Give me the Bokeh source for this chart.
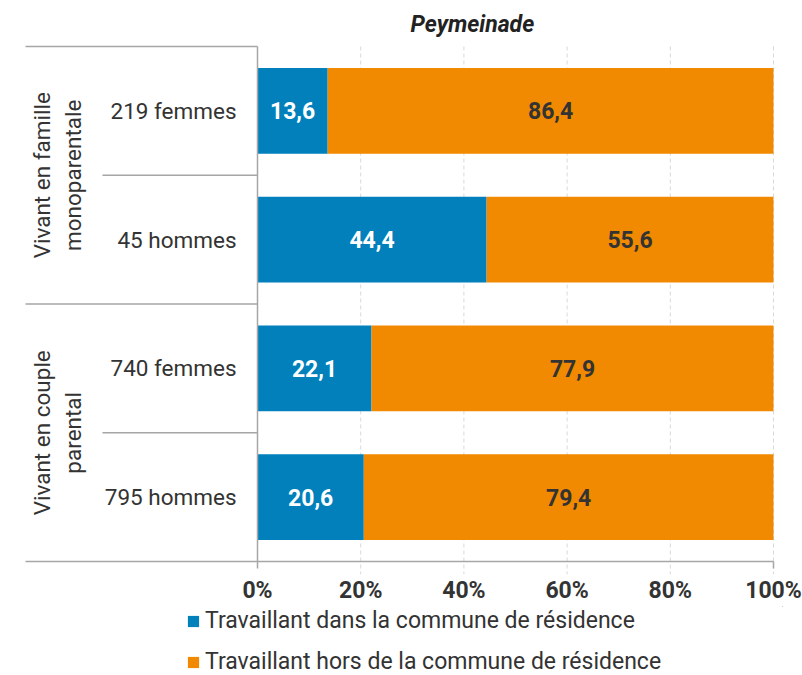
import math
from bokeh.plotting import figure
from bokeh.layouts import column
from bokeh.models import (ColumnDataSource, FixedTicker, Range1d, Legend, LegendItem)
from bokeh.core.properties import value
from bokeh.embed import file_html
from bokeh.resources import INLINE

# ---------------- data ----------------
title_text = "Peymeinade"
groups = ["Vivant en famille\nmonoparentale", "Vivant en couple\nparental"]
sub_labels = ["219 femmes", "45 hommes", "740 femmes", "795 hommes"]
dans = [13.6, 44.4, 22.1, 20.6]
hors = [86.4, 55.6, 77.9, 79.4]
series_names = ["Travaillant dans la commune de résidence",
                "Travaillant hors de la commune de résidence"]
ticks = [0, 20, 40, 60, 80, 100]
tick_labels = ["0%", "20%", "40%", "60%", "80%", "100%"]

# ---------------- styles ----------------
BLUE = "#0180bb"
ORANGE = "#f18a00"
TXT = "#333333"
LINE = "#a6a6a6"
GRID = "#d9d9d9"
FONT = "Roboto"
FS = "22.5px"
FSL = "23px"
FSB = "23px"

W = 802
H1, H2 = 606, 69
# pixel layout (page coords)
X0_PX, X100_PX = 257, 773          # where 0% and 100% sit
FL, FR = 20, 782                   # frame left/right
Y4_PX, Y0_PX = 46, 563             # top / bottom of category band
FT, FB = 44, 576                   # frame top/bottom

ux = (X100_PX - X0_PX) / 100.0
uy = (Y0_PX - Y4_PX) / 4.0
x_start = (FL - X0_PX) / ux
x_end = (FR - X0_PX) / ux
y_end = 4 + (Y4_PX - FT) / uy
y_start = -(FB - Y0_PX) / uy

n = len(sub_labels)
ys = [n - i - 0.5 for i in range(n)]
total = [a + b for a, b in zip(dans, hors)]

p = figure(width=W, height=H1, output_backend="svg", toolbar_location=None,
           x_range=Range1d(x_start, x_end), y_range=Range1d(y_start, y_end),
           min_border_left=FL, min_border_right=W - FR,
           min_border_top=FT, min_border_bottom=H1 - FB)
p.outline_line_color = None
p.grid.visible = False
p.yaxis.visible = False
p.background_fill_color = None
p.border_fill_color = "white"

# title
p.title.text = title_text
p.title.text_font = FONT
p.title.text_font_size = FSB
p.title.text_font_style = "bold italic"
p.title.text_color = "#222222"
p.title.align = "left"
p.title.offset = 410 - FL
p.title.standoff = 14

# x axis
ax = p.xaxis[0]
ax.ticker = FixedTicker(ticks=ticks)
ax.major_label_overrides = {t: l for t, l in zip(ticks, tick_labels)}
ax.axis_line_color = None
ax.major_tick_line_color = None
ax.minor_tick_line_color = None
ax.major_tick_out = 0
ax.major_tick_in = 0
ax.major_label_standoff = 2
ax.major_label_text_font = FONT
ax.major_label_text_font_size = FSB
ax.major_label_text_font_style = "bold"
ax.major_label_text_color = TXT

# dashed gridlines
grid_ticks = [t for t in ticks if t > 0]
p.segment(x0=grid_ticks, x1=grid_ticks, y0=[4] * len(grid_ticks),
          y1=[-13 / uy] * len(grid_ticks), line_color=GRID, line_width=1,
          line_dash="4 3")

# bars
src = ColumnDataSource(dict(y=ys, dans=dans, hors=hors, total=total,
                            zero=[0] * n))
p.hbar(y="y", left="zero", right="dans", height=0.665, source=src,
       fill_color=BLUE, line_color=None)
p.hbar(y="y", left="dans", right="total", height=0.665, source=src,
       fill_color=ORANGE, line_color=None)

fmt = lambda v: f"{v:.1f}".replace(".", ",")
p.text(x=[d / 2 for d in dans], y=ys, text=[fmt(v) for v in dans],
       text_font=value(FONT), text_font_size=FSB, text_font_style="bold",
       text_color="white", text_align="center", text_baseline="middle")
p.text(x=[d + h / 2 for d, h in zip(dans, hors)], y=ys,
       text=[fmt(v) for v in hors],
       text_font=value(FONT), text_font_size=FSB, text_font_style="bold",
       text_color=TXT, text_align="center", text_baseline="middle")

# left category labels
p.text(x=[(236 - X0_PX) / ux] * n, y=ys, text=sub_labels,
       text_font=value(FONT), text_font_size=FS, text_color=TXT,
       text_align="right", text_baseline="middle")
gy = [4 - 2 * g - 1 for g in range(len(groups))]
p.text(x=[(57 - X0_PX) / ux] * len(groups), y=gy, text=groups, angle=math.pi / 2,
       text_font=value(FONT), text_font_size=FS, text_color=TXT,
       text_align="center", text_baseline="middle", text_line_height=1.22)

# separator / axis lines
x_outer = (25 - X0_PX) / ux
x_inner = (102 - X0_PX) / ux
sep_y = [4, 3, 2, 1]
sep_x0 = [x_outer if (4 - yy) % 2 == 0 else x_inner for yy in sep_y]
p.segment(x0=sep_x0, x1=[0] * len(sep_y), y0=sep_y, y1=sep_y,
          line_color=LINE, line_width=1.5)
p.segment(x0=[x_outer], x1=[100], y0=[0], y1=[0], line_color=LINE, line_width=1.5)
p.segment(x0=[0, 100], x1=[0, 100], y0=[4, 0], y1=[-7 / uy, -7 / uy],
          line_color=LINE, line_width=1.5)

# ---------------- legend strip ----------------
LEG_LEFT = 186
p2 = figure(width=W, height=H2, output_backend="svg", toolbar_location=None,
            x_range=Range1d(-1000, -999), y_range=Range1d(-1000, -999),
            min_border_left=FL, min_border_right=W - FR,
            min_border_top=0, min_border_bottom=0)
p2.axis.visible = False
p2.grid.visible = False
p2.outline_line_color = None
p2.background_fill_color = None
p2.border_fill_color = "white"
lb = p2.hbar(y="y", left="zero", right="dans", height=0.665, source=src,
             fill_color=BLUE, line_color=None)
lo = p2.hbar(y="y", left="dans", right="total", height=0.665, source=src,
             fill_color=ORANGE, line_color=None)
legend = Legend(items=[LegendItem(label=series_names[0], renderers=[lb]),
                       LegendItem(label=series_names[1], renderers=[lo])],
                location=(LEG_LEFT - FL, 0), orientation="vertical",
                padding=0, margin=0, spacing=14,
                glyph_width=14, glyph_height=14, label_standoff=5,
                label_text_font=FONT, label_text_font_size=FSL,
                label_text_color=TXT, border_line_color=None,
                background_fill_alpha=0)
p2.add_layout(legend, "center")

layout = column(p, p2, spacing=0)
open("out.html", "w").write(file_html(layout, INLINE))
